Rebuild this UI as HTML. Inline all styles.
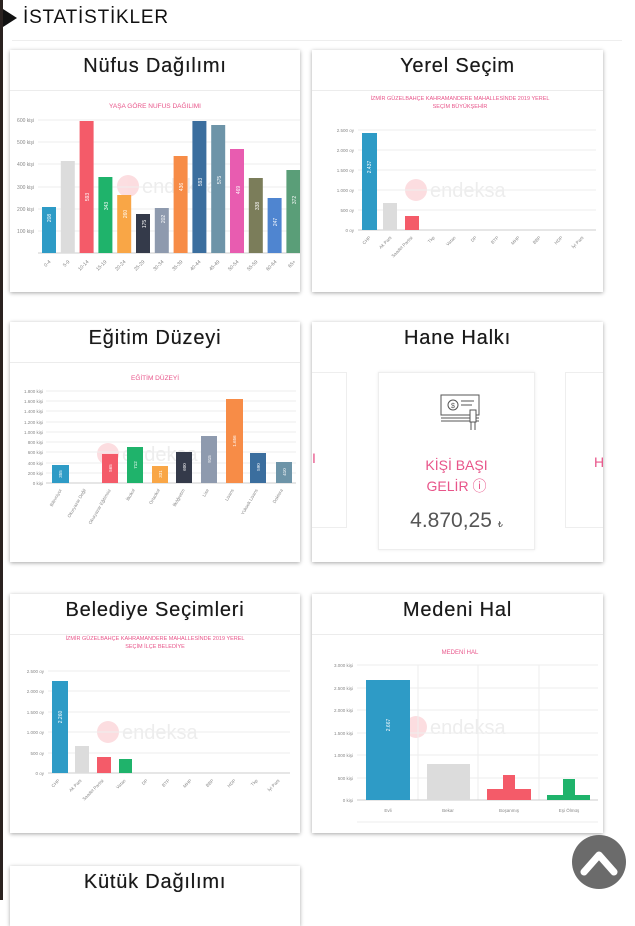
<!DOCTYPE html>
<html><head><meta charset="utf-8">
<style>
*{margin:0;padding:0;box-sizing:border-box}
body{width:635px;height:900px;background:#fff;position:relative;overflow:hidden;font-family:"Liberation Sans",sans-serif}
.card{position:absolute;background:#fff;box-shadow:0 1px 4px rgba(0,0,0,.35)}
.ttl{position:absolute;left:0;right:0;top:5px;text-align:center;font-size:20px;color:#1a1a1a;letter-spacing:.8px;text-shadow:0 0 .4px #1a1a1a}
.sep{position:absolute;left:0;right:0;top:40px;border-top:1px solid #ececec}
svg text{font-family:"Liberation Sans",sans-serif}
</style></head><body>
<div style="position:absolute;left:0;top:0;width:3px;height:900px;background:#2a2220"></div>
<div style="position:absolute;left:3px;top:9px;width:0;height:0;border-top:9px solid transparent;border-bottom:9px solid transparent;border-left:14px solid #111"></div>
<div style="position:absolute;left:23px;top:7px;font-size:19px;color:#111;letter-spacing:.8px">İSTATİSTİKLER</div>
<div style="position:absolute;left:12px;top:40px;width:610px;border-top:1px solid #eee"></div>

<div class="card" style="left:10px;top:50px;width:290px;height:242px"><div class="ttl">Nüfus Dağılımı</div><div class="sep"></div></div>
<div class="card" style="left:312px;top:50px;width:291px;height:242px"><div class="ttl">Yerel Seçim</div><div class="sep"></div></div>
<div class="card" style="left:10px;top:322px;width:290px;height:240px"><div class="ttl">Eğitim Düzeyi</div><div class="sep"></div></div>
<div class="card" style="left:312px;top:322px;width:291px;height:240px;overflow:hidden"><div class="ttl">Hane Halkı</div>
 <div style="position:absolute;left:-20px;top:50px;width:55px;height:156px;border:1px solid #eee"></div>
 <div style="position:absolute;left:253px;top:50px;width:60px;height:156px;border:1px solid #eee"></div>
 <div style="position:absolute;left:66px;top:50px;width:157px;height:178px;border:1px solid #eee;box-shadow:0 0 3px rgba(0,0,0,.08)"></div>
 <div style="position:absolute;left:0;top:128px;color:#e8558a;font-size:14px">I</div>
 <div style="position:absolute;left:282px;top:132px;color:#e8558a;font-size:14px">H</div>
 <div style="position:absolute;left:66px;width:157px;top:133px;text-align:center;color:#e8558a;font-size:14px;line-height:21px">KİŞİ BAŞI<br>GELİR ⓘ</div>
 <div style="position:absolute;left:66px;width:157px;top:187px;text-align:center;color:#555;font-size:21px">4.870,25 <span style="font-size:8px">₺</span></div>
</div>
<div class="card" style="left:10px;top:594px;width:290px;height:239px"><div class="ttl">Belediye Seçimleri</div><div class="sep"></div></div>
<div class="card" style="left:312px;top:594px;width:291px;height:239px"><div class="ttl">Medeni Hal</div><div class="sep"></div></div>
<div class="card" style="left:10px;top:866px;width:290px;height:60px"><div class="ttl">Kütük Dağılımı</div></div>

<svg width="635" height="900" style="position:absolute;left:0;top:0" xmlns="http://www.w3.org/2000/svg">
<g opacity=".35"><circle cx="128" cy="186" r="11" fill="#f7a0a8"/><text x="142" y="193" font-size="20" fill="#ccc">endeksa</text>
<circle cx="416" cy="190" r="11" fill="#f7a0a8"/><text x="430" y="197" font-size="20" fill="#ccc">endeksa</text>
<circle cx="108" cy="454" r="11" fill="#f7a0a8"/><text x="122" y="461" font-size="20" fill="#ccc">endeksa</text>
<circle cx="108" cy="732" r="11" fill="#f7a0a8"/><text x="122" y="739" font-size="20" fill="#ccc">endeksa</text>
<circle cx="416" cy="727" r="11" fill="#f7a0a8"/><text x="430" y="734" font-size="20" fill="#ccc">endeksa</text></g>

<!-- Chart 1 -->
<text x="155" y="108" font-size="6.5" fill="#e8558a" text-anchor="middle">YAŞA GÖRE NUFUS DAĞILIMI</text>
<g stroke="#eee" stroke-width="1">
<line x1="38" x2="300" y1="120" y2="120"/><line x1="38" x2="300" y1="142" y2="142"/><line x1="38" x2="300" y1="164" y2="164"/><line x1="38" x2="300" y1="187" y2="187"/><line x1="38" x2="300" y1="209" y2="209"/><line x1="38" x2="300" y1="231" y2="231"/>
</g>
<line x1="38" x2="300" y1="253" y2="253" stroke="#ccc"/>
<g font-size="5" fill="#888" text-anchor="end"><text x="34" y="122">600 kişi</text><text x="34" y="144">500 kişi</text><text x="34" y="166">400 kişi</text><text x="34" y="189">300 kişi</text><text x="34" y="211">200 kişi</text><text x="34" y="233">100 kişi</text></g>
<rect x="42" y="207" width="14" height="46" fill="#2e9bc6"/>
<rect x="60.8" y="161" width="14" height="92" fill="#dcdcdc"/>
<rect x="79.6" y="121" width="14" height="132" fill="#f45b69"/>
<rect x="98.4" y="177" width="14" height="76" fill="#1fb36b"/>
<rect x="117.2" y="195" width="14" height="58" fill="#f9a646"/>
<rect x="136" y="214" width="14" height="39" fill="#343a4a"/>
<rect x="154.8" y="208" width="14" height="45" fill="#8e9aae"/>
<rect x="173.6" y="156" width="14" height="97" fill="#f78c47"/>
<rect x="192.4" y="121" width="14" height="132" fill="#3b6e9e"/>
<rect x="211.2" y="125" width="14" height="128" fill="#6d94a8"/>
<rect x="230" y="149" width="14" height="104" fill="#e85cb0"/>
<rect x="248.8" y="178" width="14" height="75" fill="#7b7d5a"/>
<rect x="267.6" y="198" width="14" height="55" fill="#4f85d0"/>
<rect x="286.4" y="170" width="13.6" height="83" fill="#5a9e78"/>
<g font-size="5" fill="#fff" text-anchor="middle">
<text transform="translate(51,218) rotate(-90)">208</text><text transform="translate(89,197) rotate(-90)">593</text><text transform="translate(108,206) rotate(-90)">343</text><text transform="translate(127,214) rotate(-90)">260</text><text transform="translate(146,224) rotate(-90)">175</text><text transform="translate(165,219) rotate(-90)">202</text><text transform="translate(183,187) rotate(-90)">436</text><text transform="translate(202,182) rotate(-90)">593</text><text transform="translate(221,180) rotate(-90)">575</text><text transform="translate(240,190) rotate(-90)">469</text><text transform="translate(259,206) rotate(-90)">338</text><text transform="translate(277,222) rotate(-90)">247</text><text transform="translate(296,200) rotate(-90)">372</text></g>
<g font-size="5" fill="#888" text-anchor="end">
<text transform="translate(51,262) rotate(-45)">0-4</text><text transform="translate(70,262) rotate(-45)">5-9</text><text transform="translate(89,262) rotate(-45)">10-14</text><text transform="translate(107,262) rotate(-45)">15-19</text><text transform="translate(126,262) rotate(-45)">20-24</text><text transform="translate(145,262) rotate(-45)">25-29</text><text transform="translate(164,262) rotate(-45)">30-34</text><text transform="translate(183,262) rotate(-45)">35-39</text><text transform="translate(201,262) rotate(-45)">40-44</text><text transform="translate(220,262) rotate(-45)">45-49</text><text transform="translate(239,262) rotate(-45)">50-54</text><text transform="translate(258,262) rotate(-45)">55-59</text><text transform="translate(277,262) rotate(-45)">60-64</text><text transform="translate(296,262) rotate(-45)">65+</text></g>

<!-- Chart 2 -->
<text x="460" y="100" font-size="5.5" fill="#e8558a" text-anchor="middle">İZMİR GÜZELBAHÇE KAHRAMANDERE MAHALLESİNDE 2019 YEREL</text>
<text x="460" y="108" font-size="5.5" fill="#e8558a" text-anchor="middle">SEÇİM BÜYÜKŞEHİR</text>
<g stroke="#eee"><line x1="358" x2="596" y1="130" y2="130"/><line x1="358" x2="596" y1="150" y2="150"/><line x1="358" x2="596" y1="170" y2="170"/><line x1="358" x2="596" y1="190" y2="190"/><line x1="358" x2="596" y1="210" y2="210"/></g>
<line x1="358" x2="596" y1="230" y2="230" stroke="#ccc"/>
<g font-size="4.5" fill="#888" text-anchor="end"><text x="354" y="132">2.500 oy</text><text x="354" y="152">2.000 oy</text><text x="354" y="172">1.500 oy</text><text x="354" y="192">1.000 oy</text><text x="354" y="212">500 oy</text><text x="354" y="232">0 oy</text></g>
<rect x="362" y="133" width="15" height="97" fill="#2e9bc6"/>
<rect x="383" y="203" width="14" height="27" fill="#dcdcdc"/>
<rect x="405" y="216" width="14" height="14" fill="#f45b69"/>
<text transform="translate(371,167) rotate(-90)" font-size="5" fill="#fff" text-anchor="middle">2.437</text>
<g font-size="4.5" fill="#888" text-anchor="end"><text transform="translate(371,238) rotate(-45)">CHP</text><text transform="translate(392,238) rotate(-45)">Ak Parti</text><text transform="translate(413,238) rotate(-45)">Saadet Partisi</text><text transform="translate(435,238) rotate(-45)">Tkp</text><text transform="translate(456,238) rotate(-45)">Vatan</text><text transform="translate(477,238) rotate(-45)">DP</text><text transform="translate(499,238) rotate(-45)">BTP</text><text transform="translate(520,238) rotate(-45)">MHP</text><text transform="translate(541,238) rotate(-45)">BBP</text><text transform="translate(563,238) rotate(-45)">HDP</text><text transform="translate(584,238) rotate(-45)">İyi Parti</text></g>

<!-- Chart 3 -->
<text x="155" y="380" font-size="6.5" fill="#e8558a" text-anchor="middle">EĞİTİM DÜZEYİ</text>
<g stroke="#eee"><line x1="46" x2="296" y1="391" y2="391"/><line x1="46" x2="296" y1="401" y2="401"/><line x1="46" x2="296" y1="411" y2="411"/><line x1="46" x2="296" y1="422" y2="422"/><line x1="46" x2="296" y1="432" y2="432"/><line x1="46" x2="296" y1="442" y2="442"/><line x1="46" x2="296" y1="452" y2="452"/><line x1="46" x2="296" y1="463" y2="463"/><line x1="46" x2="296" y1="473" y2="473"/></g>
<line x1="46" x2="296" y1="483" y2="483" stroke="#ccc"/>
<g font-size="4.5" fill="#888" text-anchor="end"><text x="43" y="393">1.800 kişi</text><text x="43" y="403">1.600 kişi</text><text x="43" y="413">1.400 kişi</text><text x="43" y="424">1.200 kişi</text><text x="43" y="434">1.000 kişi</text><text x="43" y="444">800 kişi</text><text x="43" y="454">600 kişi</text><text x="43" y="465">400 kişi</text><text x="43" y="475">200 kişi</text><text x="43" y="485">0 kişi</text></g>
<rect x="52" y="465" width="17" height="18" fill="#2e9bc6"/>
<rect x="102" y="454" width="16" height="29" fill="#f45b69"/>
<rect x="127" y="447" width="16" height="36" fill="#1fb36b"/>
<rect x="152" y="466" width="16" height="17" fill="#f9a646"/>
<rect x="176" y="452" width="16" height="31" fill="#343a4a"/>
<rect x="201" y="436" width="16" height="47" fill="#8e9aae"/>
<rect x="226" y="399" width="17" height="84" fill="#f78c47"/>
<rect x="250" y="453" width="16" height="30" fill="#3b6e9e"/>
<rect x="276" y="462" width="16" height="21" fill="#6d94a8"/>
<g font-size="4.5" fill="#fff" text-anchor="middle"><text transform="translate(62,474) rotate(-90)">355</text><text transform="translate(112,468) rotate(-90)">565</text><text transform="translate(137,465) rotate(-90)">712</text><text transform="translate(162,474) rotate(-90)">331</text><text transform="translate(186,467) rotate(-90)">600</text><text transform="translate(211,459) rotate(-90)">915</text><text transform="translate(236,441) rotate(-90)">1.656</text><text transform="translate(260,467) rotate(-90)">590</text><text transform="translate(286,472) rotate(-90)">410</text></g>
<g font-size="4.5" fill="#888" text-anchor="end"><text transform="translate(62,490) rotate(-60)">Bilinmiyor</text><text transform="translate(86,490) rotate(-60)">Okuryazar Değil</text><text transform="translate(111,490) rotate(-60)">Okuryazar Eğitimsiz</text><text transform="translate(135,490) rotate(-60)">İlkokul</text><text transform="translate(160,490) rotate(-60)">Ortaokul</text><text transform="translate(185,490) rotate(-60)">İlköğretim</text><text transform="translate(209,490) rotate(-60)">Lise</text><text transform="translate(234,490) rotate(-60)">Lisans</text><text transform="translate(258,490) rotate(-60)">Yüksek Lisans</text><text transform="translate(283,490) rotate(-60)">Doktora</text></g>

<!-- Hane icon -->
<g stroke="#555" fill="none" stroke-width="1"><rect x="441" y="395" width="38" height="20"/><circle cx="453" cy="405" r="5"/><line x1="461" y1="401" x2="474" y2="401"/><line x1="461" y1="405" x2="472" y2="405"/><line x1="441" y1="418" x2="479" y2="418"/><line x1="441" y1="421" x2="479" y2="421"/><rect x="470" y="410" width="6" height="12" fill="#fff"/><line x1="471" y1="422" x2="471" y2="430"/><line x1="475" y1="422" x2="475" y2="430"/></g>
<text x="453" y="408" font-size="7" fill="#555" text-anchor="middle">$</text>

<!-- Chart 5 -->
<text x="155" y="640" font-size="5.5" fill="#e8558a" text-anchor="middle">İZMİR GÜZELBAHÇE KAHRAMANDERE MAHALLESİNDE 2019 YEREL</text>
<text x="155" y="648" font-size="5.5" fill="#e8558a" text-anchor="middle">SEÇİM İLÇE BELEDİYE</text>
<g stroke="#eee"><line x1="48" x2="290" y1="671" y2="671"/><line x1="48" x2="290" y1="691" y2="691"/><line x1="48" x2="290" y1="712" y2="712"/><line x1="48" x2="290" y1="732" y2="732"/><line x1="48" x2="290" y1="753" y2="753"/></g>
<line x1="48" x2="290" y1="773" y2="773" stroke="#ccc"/>
<g font-size="4.5" fill="#888" text-anchor="end"><text x="44" y="673">2.500 oy</text><text x="44" y="693">2.000 oy</text><text x="44" y="714">1.500 oy</text><text x="44" y="734">1.000 oy</text><text x="44" y="755">500 oy</text><text x="44" y="775">0 oy</text></g>
<rect x="52" y="681" width="16" height="92" fill="#2e9bc6"/>
<rect x="75" y="746" width="14" height="27" fill="#dcdcdc"/>
<rect x="97" y="757" width="14" height="16" fill="#f45b69"/>
<rect x="119" y="759" width="13" height="14" fill="#1fb36b"/>
<text transform="translate(62,717) rotate(-90)" font-size="5" fill="#fff" text-anchor="middle">2.260</text>
<g font-size="4.5" fill="#888" text-anchor="end"><text transform="translate(60,781) rotate(-45)">CHP</text><text transform="translate(82,781) rotate(-45)">Ak Parti</text><text transform="translate(104,781) rotate(-45)">Saadet Partisi</text><text transform="translate(126,781) rotate(-45)">Vatan</text><text transform="translate(148,781) rotate(-45)">DP</text><text transform="translate(170,781) rotate(-45)">BTP</text><text transform="translate(192,781) rotate(-45)">MHP</text><text transform="translate(214,781) rotate(-45)">BBP</text><text transform="translate(236,781) rotate(-45)">HDP</text><text transform="translate(258,781) rotate(-45)">Tkp</text><text transform="translate(280,781) rotate(-45)">İyi Parti</text></g>

<!-- Chart 6 -->
<text x="460" y="654" font-size="6" fill="#e8558a" text-anchor="middle">MEDENİ HAL</text>
<g stroke="#eee"><line x1="357" x2="598" y1="665" y2="665"/><line x1="357" x2="598" y1="688" y2="688"/><line x1="357" x2="598" y1="710" y2="710"/><line x1="357" x2="598" y1="733" y2="733"/><line x1="357" x2="598" y1="755" y2="755"/><line x1="357" x2="598" y1="778" y2="778"/><line x1="418" x2="418" y1="665" y2="800"/><line x1="478" x2="478" y1="665" y2="800"/><line x1="539" x2="539" y1="665" y2="800"/><line x1="357" x2="598" y1="822" y2="822"/></g>
<line x1="357" x2="598" y1="800" y2="800" stroke="#ccc"/>
<g font-size="4.5" fill="#888" text-anchor="end"><text x="353" y="667">3.000 kişi</text><text x="353" y="690">2.500 kişi</text><text x="353" y="712">2.000 kişi</text><text x="353" y="735">1.500 kişi</text><text x="353" y="757">1.000 kişi</text><text x="353" y="780">500 kişi</text><text x="353" y="802">0 kişi</text></g>
<rect x="366" y="680" width="44" height="120" fill="#2e9bc6"/>
<rect x="427" y="764" width="43" height="36" fill="#dcdcdc"/>
<rect x="487" y="789" width="44" height="11" fill="#f45b69"/><rect x="503" y="775" width="12" height="14" fill="#f45b69"/>
<rect x="547" y="795" width="43" height="5" fill="#1fb36b"/><rect x="563" y="779" width="12" height="16" fill="#1fb36b"/>
<text transform="translate(390,725) rotate(-90)" font-size="5" fill="#fff" text-anchor="middle">2.667</text>
<g font-size="4.5" fill="#888" text-anchor="middle"><text x="388" y="812">Evli</text><text x="448" y="812">Bekar</text><text x="509" y="812">Boşanmış</text><text x="569" y="812">Eşi Ölmüş</text></g>

<!-- scroll top -->
<circle cx="599" cy="862" r="27" fill="#6b6b6b"/>
<polyline points="584,872 599,855 614,872" fill="none" stroke="#fff" stroke-width="7" stroke-linecap="round" stroke-linejoin="round"/>
</svg>
</body></html>
